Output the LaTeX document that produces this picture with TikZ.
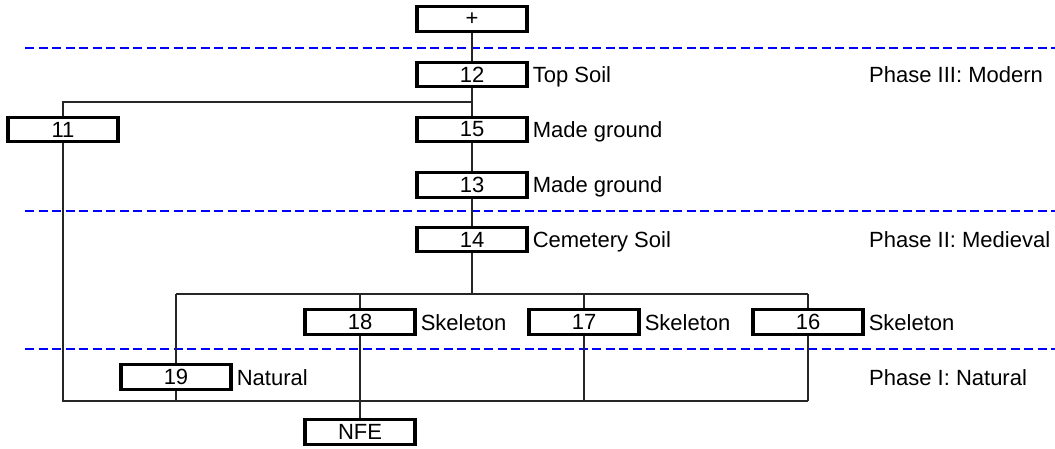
\documentclass[tikz,border=0pt]{standalone}
\usepackage{fontspec}
\setmainfont{Liberation Sans}
\begin{document}
\begin{tikzpicture}[x=1pt,y=-1pt,
  ctx/.style={draw, line width=3.2pt, minimum width=110pt, minimum height=24.5pt, inner sep=0pt, fill=white, font=\fontsize{22}{25}\selectfont},
  lbl/.style={anchor=base west, inner sep=0pt, font=\fontsize{22}{25}\selectfont},
  conn/.style={line width=1.3pt, black!85},
  phase/.style={draw=blue, line width=1.3pt, dash pattern=on 9pt off 4.5pt}]
\useasboundingbox (0,0) rectangle (1055,449);
% phase boundaries
\coordinate (d1a) at (25,48);  \coordinate (d1b) at (1055,48);
\coordinate (d2a) at (25,211); \coordinate (d2b) at (1055,211);
\coordinate (d3a) at (25,349); \coordinate (d3b) at (1055,349);
\draw[phase] (d1a) -- (d1b);
\draw[phase] (d2a) -- (d2b);
\draw[phase] (d3a) -- (d3b);
% contexts
\node[ctx] (plus) at (472,19) {+};
\node[ctx] (b12) at (472,74.5) {12};
\node[ctx] (b11) at (63,129.5) {11};
\node[ctx] (b15) at (472,129.5) {15};
\node[ctx] (b13) at (472,185) {13};
\node[ctx] (b14) at (472,239.5) {14};
\node[ctx] (b18) at (360,322) {18};
\node[ctx] (b17) at (584,322) {17};
\node[ctx] (b16) at (808,322) {16};
\node[ctx] (b19) at (176,377) {19};
\node[ctx] (nfe) at (360,432) {NFE};
% labels
\tikzset{lblpos/.style={xshift=4pt,yshift=-8pt}}
\node[lbl] (l12) at ([lblpos]b12.east) {Top Soil};
\node[lbl] (l15) at ([lblpos]b15.east) {Made ground};
\node[lbl] (l13) at ([lblpos]b13.east) {Made ground};
\node[lbl] (l14) at ([lblpos]b14.east) {Cemetery Soil};
\node[lbl] (l18) at ([lblpos]b18.east) {Skeleton};
\node[lbl] (l17) at ([lblpos]b17.east) {Skeleton};
\node[lbl] (l16) at ([lblpos]b16.east) {Skeleton};
\node[lbl] (l19) at ([lblpos]b19.east) {Natural};
\node[lbl] (p3) at (869,82.5) {Phase III: Modern};
\node[lbl] (p2) at (869,247.5) {Phase II: Medieval};
\node[lbl] (p1) at (869,385) {Phase I: Natural};
% junctions
\coordinate (jt) at (0,102);
\coordinate (jm) at (0,294);
\coordinate (jb) at (0,401);
% connectors
\draw[conn] (plus.south) -- (b12.north);
\draw[conn] (b12.south) -- (b15.north);
\draw[conn] (b15.south) -- (b13.north);
\draw[conn] (b13.south) -- (b14.north);
\draw[conn] (b12.south |- jt) -| (b11.north);
\draw[conn] (b11.south) -- (b11.south |- jb) -- (b16.south |- jb);
\draw[conn] (b14.south) -- (b14.south |- jm);
\draw[conn] (b19.north |- jm) -- (b16.north |- jm);
\draw[conn] (b19.north |- jm) -- (b19.north);
\draw[conn] (b19.south) -- (b19.south |- jb);
\draw[conn] (b18.north |- jm) -- (b18.north);
\draw[conn] (b18.south) -- (nfe.north);
\draw[conn] (b17.north |- jm) -- (b17.north);
\draw[conn] (b17.south) -- (b17.south |- jb);
\draw[conn] (b16.north |- jm) -- (b16.north);
\draw[conn] (b16.south) -- (b16.south |- jb);
\end{tikzpicture}
\end{document}
